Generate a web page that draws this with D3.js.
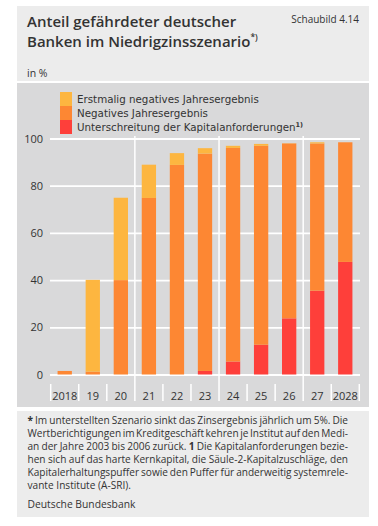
<!DOCTYPE html>
<html><head><meta charset="utf-8">
<script src="https://cdn.jsdelivr.net/npm/d3@7"></script>
<style>
html,body{margin:0;padding:0;background:#fff;}
svg{display:block;}
text{font-family:"Open Sans","Noto Sans",sans-serif;fill:#333;}
</style></head>
<body>
<svg id="c" width="378" height="526"></svg>
<script>
// ---- data ----
const years = ["2018","19","20","21","22","23","24","25","26","27","2028"];
const unterschreitung = [0,0,0,0,0,1.5,5.5,12.6,23.8,35.5,47.7];
const negativ        = [1.5,1.2,40.0,74.8,88.8,92.1,90.5,84.3,74.1,62.4,50.7];
const erstmalig      = [0,38.9,34.9,14.1,5.0,2.3,0.9,0.8,0.1,0.5,0];
const yTicks = [0,20,40,60,80,100];
const seriesNames = ["Erstmalig negatives Jahresergebnis","Negatives Jahresergebnis","Unterschreitung der Kapitalanforderungen"];
const seriesColors = ["#fdb640","#fd8733","#fe3f3a"];
const groupBreaks = [3,6,9];
const titleLines = ["Anteil gefährdeter deutscher","Banken im Niedrigzinsszenario"];
const footLines = [
  [{t:"*",b:true},{t:"Im"},{t:"unterstellten"},{t:"Szenario"},{t:"sinkt"},{t:"das"},{t:"Zinsergebnis"},{t:"jährlich"},{t:"um"},{t:"5%."},{t:"Die"}],
  [{t:"Wertberichtigungen"},{t:"im"},{t:"Kreditgeschäft"},{t:"kehren"},{t:"je"},{t:"Institut"},{t:"auf"},{t:"den"},{t:"Medi-"}],
  [{t:"an"},{t:"der"},{t:"Jahre"},{t:"2003"},{t:"bis"},{t:"2006"},{t:"zurück."},{t:"1",b:true},{t:"Die"},{t:"Kapitalanforderungen"},{t:"bezie-"}],
  [{t:"hen"},{t:"sich"},{t:"auf"},{t:"das"},{t:"harte"},{t:"Kernkapital,"},{t:"die"},{t:"Säule-2-Kapitalzuschläge,"},{t:"den"}],
  [{t:"Kapitalerhaltungspuffer"},{t:"sowie"},{t:"den"},{t:"Puffer"},{t:"für"},{t:"anderweitig"},{t:"systemrele-"}],
  [{t:"vante"},{t:"Institute"},{t:"(A-SRI)."}]
];

const svg = d3.select("#c");

// panels
svg.append("rect").attr("x",17).attr("y",6).attr("width",352).attr("height",75).attr("fill","#ececec");
svg.append("rect").attr("x",17).attr("y",83).attr("width",352).attr("height",324).attr("fill","#d9d9da");
svg.append("rect").attr("x",17).attr("y",411).attr("width",352).attr("height",106).attr("fill","#ececec");

// header
svg.append("text").attr("x",27).attr("y",27).attr("font-size",15).attr("font-weight",600).text(titleLines[0]);
const t2 = svg.append("text").attr("x",27).attr("y",47).attr("font-size",15).attr("font-weight",600).text(titleLines[1]);
t2.append("tspan").attr("font-size",8.5).attr("dy",-7).text("*)");
svg.append("text").attr("x",359).attr("y",23).attr("text-anchor","end").attr("font-size",10).text("Schaubild 4.14");
svg.append("text").attr("x",27).attr("y",77).attr("font-size",10.5).text("in %");

// scales
const x = d3.scaleBand().domain(years).range([50.7,359.3]).paddingInner(0.49).paddingOuter(0.245);
const y = d3.scaleLinear().domain([0,100]).range([374.5,138.5]);

// y axis with grid
const yAxis = svg.append("g").attr("transform","translate(50,0)")
  .call(d3.axisLeft(y).tickValues(yTicks).tickSize(-310).tickPadding(7));
yAxis.select(".domain").remove();
yAxis.selectAll(".tick line").attr("stroke","#fff").attr("stroke-width",1.8);
yAxis.selectAll(".tick text").attr("font-size",11).attr("fill","#333").style("font-family","'Open Sans',sans-serif");

// group separators & ticks
const step = x.step();
const x0 = 50.7;
svg.append("g").selectAll("line").data(d3.range(0, years.length+1)).join("line")
  .attr("x1",i=>x0+i*step).attr("x2",i=>x0+i*step)
  .attr("y1",i=>groupBreaks.includes(i)?136:384).attr("y2",401)
  .attr("stroke","#fff").attr("stroke-width",1.5);

// bars
const rows = years.map((yr,i)=>({year:yr,u:unterschreitung[i],n:negativ[i],e:erstmalig[i]}));
const stack = d3.stack().keys(["u","n","e"])(rows);
const colorByKey = {u:seriesColors[2], n:seriesColors[1], e:seriesColors[0]};
svg.append("g").selectAll("g").data(stack).join("g").attr("fill",d=>colorByKey[d.key])
  .selectAll("rect").data(d=>d).join("rect")
  .attr("x",d=>x(d.data.year)).attr("width",x.bandwidth())
  .attr("y",d=>y(d[1])).attr("height",d=>Math.max(0,y(d[0])-y(d[1])));

// x axis labels
const xAxis = svg.append("g").attr("transform","translate(0,375)")
  .call(d3.axisBottom(x).tickSize(0).tickPadding(17.5));
xAxis.select(".domain").remove();
xAxis.selectAll(".tick text").attr("font-size",11).attr("fill","#333").style("font-family","'Open Sans',sans-serif");

// legend
const lg = svg.append("g");
seriesNames.forEach((name,i)=>{
  lg.append("rect").attr("x",60).attr("y",92+i*14).attr("width",12).attr("height",14).attr("fill",seriesColors[i]);
  const t = lg.append("text").attr("x",77).attr("y",103+i*14).attr("font-size",10.3)
    .style("font-family","'DejaVu Sans',sans-serif").text(name);
  if(i===2) t.append("tspan").attr("font-size",6.5).attr("font-weight",700).attr("dy",-4.5).text("1)");
});

// footnote (justified)
const fx0 = 27.5, fx1 = 348, fs = 10.1;
const fg = svg.append("g");
footLines.forEach((words,li)=>{
  const yy = 424 + li*13;
  const nodes = words.map(w=>fg.append("text").attr("y",yy).attr("font-size",fs).attr("font-weight",w.b?700:400).text(w.t));
  const widths = nodes.map(n=>n.node().getComputedTextLength());
  const total = d3.sum(widths);
  const last = li===footLines.length-1;
  const gap = last ? fs*0.27 : (fx1-fx0-total)/(words.length-1);
  let cx = fx0;
  nodes.forEach((n,k)=>{ n.attr("x",cx); cx += widths[k]+gap; });
});
svg.append("text").attr("x",27.5).attr("y",508).attr("font-size",10.3).text("Deutsche Bundesbank");
</script>
</body></html>
